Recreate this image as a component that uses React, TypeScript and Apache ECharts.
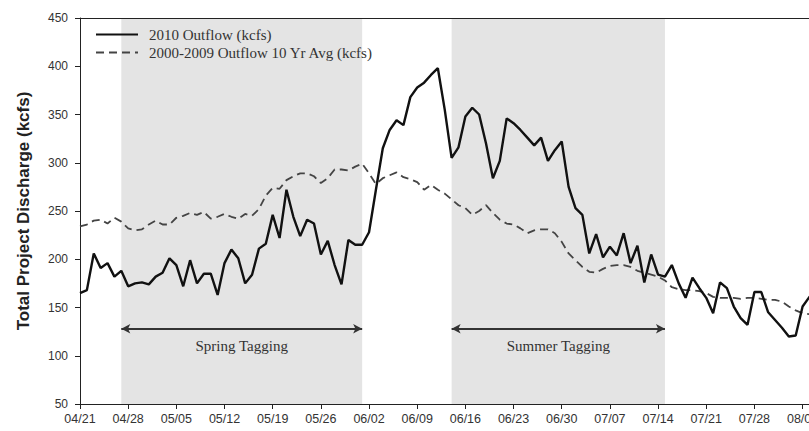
import React, { useEffect, useRef } from "react";
import * as echarts from "echarts";

// Dates from 04/21 (day 0) onward
function buildDates(n: number): string[] {
  const out: string[] = [];
  const monthLen = [31, 28, 31, 30, 31, 30, 31, 31, 30, 31, 30, 31];
  let m = 4, d = 21;
  for (let i = 0; i < n; i++) {
    out.push(String(m).padStart(2, "0") + "/" + String(d).padStart(2, "0"));
    d++;
    if (d > monthLen[m - 1]) { d = 1; m++; }
  }
  return out;
}
const categories = buildDates(111);

const outflow2010 = [
  165, 168, 206, 191, 196, 182, 188, 172, 175, 176,
  174, 182, 186, 201, 194, 172, 199, 175, 185, 185,
  163, 196, 210, 201, 175, 184, 211, 216, 246, 222,
  272, 244, 224, 241, 237, 205, 219, 194, 174, 220,
  215, 215, 228, 272, 315, 334, 344, 339, 368, 378,
  383, 391, 398, 355, 305, 316, 348, 357, 350, 320,
  284, 302, 346, 341, 334, 326, 318, 326, 302, 313,
  322, 275, 253, 246, 206, 226, 202, 213, 204, 227,
  196, 214, 176, 205, 184, 182, 194, 175, 160, 181,
  170, 160, 144, 176, 170, 151, 139, 132, 166, 166,
  145, 137, 129, 120, 121, 151, 161, 163, null, null, null,
];

const avg10yr = [
  234, 236, 240, 241, 237, 243, 239, 232, 230, 231,
  236, 240, 236, 236, 243, 245, 248, 246, 249, 242,
  244, 247, 244, 242, 247, 245, 252, 266, 274, 273,
  282, 286, 289, 289, 286, 279, 284, 293, 293, 292,
  296, 299, 289, 278, 284, 287, 290, 285, 283, 280,
  272, 277, 272, 268, 262, 256, 253, 246, 250, 256,
  248, 241, 237, 236, 232, 227, 230, 231, 231, 227,
  218, 206, 199, 192, 187, 186, 190, 193, 194, 194,
  192, 188, 186, 184, 182, 178, 171, 169, 168, 168,
  167, 165, 161, 160, 160, 160, 159, 160, 160, 159,
  158, 158, 156, 151, 147, 144, 143, 142, null, null, null,
];

const yTicks = { min: 50, max: 450, interval: 50 };
const springPeriod = ["04/27", "06/01"];
const summerPeriod = ["06/14", "07/15"];
const tagLevel = 128;

export default function App() {
  const ref = useRef<HTMLDivElement>(null);
  useEffect(() => {
    if (!ref.current) return;
    const chart = echarts.init(ref.current, undefined, { renderer: "svg" });
    const sans = "Liberation Sans";
    const serif = "Liberation Serif";
    const arrowLine = (a: string, b: string, label: string) => [
      { coord: [a, tagLevel], name: label },
      { coord: [b, tagLevel] },
    ];
    chart.setOption({
      animation: false,
      backgroundColor: "#ffffff",
      grid: { left: 80, top: 18, bottom: 27, right: 0 },
      legend: {
        orient: "vertical",
        left: 90,
        top: 22,
        itemWidth: 42,
        itemHeight: 14,
        itemGap: 3,
        itemStyle: { opacity: 0 },
        textStyle: { fontFamily: serif, fontSize: 15, color: "#333", padding: [0, 0, 0, 6] },
        data: ["2010 Outflow (kcfs)", "2000-2009 Outflow 10 Yr Avg (kcfs)"],
      },
      xAxis: [
        {
          type: "category",
          data: categories,
          boundaryGap: false,
          axisLine: { lineStyle: { color: "#222", width: 1 } },
          axisTick: { interval: 6, length: 5, lineStyle: { color: "#222" } },
          axisLabel: { interval: 6, fontFamily: sans, fontSize: 12.5, color: "#333", margin: 8 },
          splitLine: { show: false },
        },
        {
          type: "category",
          data: categories,
          boundaryGap: false,
          position: "top",
          z: 5,
          axisLine: { lineStyle: { color: "#222", width: 1 } },
          axisTick: { show: false },
          axisLabel: { show: false },
        },
      ],
      yAxis: {
        type: "value",
        min: yTicks.min,
        max: yTicks.max,
        interval: yTicks.interval,
        name: "Total Project Discharge (kcfs)",
        nameLocation: "middle",
        nameRotate: 90,
        nameGap: 48,
        nameTextStyle: { fontFamily: sans, fontSize: 17, fontWeight: "bold", color: "#222" },
        axisLine: { show: true, lineStyle: { color: "#222" } },
        axisTick: { show: true, length: 5, lineStyle: { color: "#222" } },
        axisLabel: { fontFamily: sans, fontSize: 12, color: "#333", margin: 12 },
        splitLine: { show: false },
      },
      series: [
        {
          type: "line",
          name: "shade",
          data: [],
          z: 1,
          silent: true,
          markArea: {
            silent: true,
            itemStyle: { color: "#e4e4e4" },
            data: [
              [{ xAxis: springPeriod[0] }, { xAxis: springPeriod[1] }],
              [{ xAxis: summerPeriod[0] }, { xAxis: summerPeriod[1] }],
            ],
          },
          markLine: {
            silent: true,
            symbol: ["arrow", "arrow"],
            symbolSize: [7, 9],
            lineStyle: { color: "#333", width: 2, type: "solid" },
            label: {
              show: true,
              position: "insideMiddleBottom",
              distance: 10,
              formatter: "{b}",
              fontFamily: serif,
              fontSize: 15,
              color: "#333",
            },
            data: [
              arrowLine(springPeriod[0], springPeriod[1], "Spring Tagging"),
              arrowLine(summerPeriod[0], summerPeriod[1], "Summer Tagging"),
            ],
          },
        },
        {
          type: "line",
          name: "2010 Outflow (kcfs)",
          data: outflow2010,
          z: 4,
          showSymbol: false,
          symbol: "none",
          lineStyle: { color: "#111", width: 2.4 },
          itemStyle: { color: "#111" },
        },
        {
          type: "line",
          name: "2000-2009 Outflow 10 Yr Avg (kcfs)",
          data: avg10yr,
          z: 3,
          showSymbol: false,
          symbol: "none",
          lineStyle: { color: "#444", width: 1.8, type: [8, 5] },
          itemStyle: { color: "#444" },
        },
      ],
    });
    return () => chart.dispose();
  }, []);
  return (
    <div
      style={{ position: "absolute", left: 0, top: 0, width: 809, height: 431, overflow: "hidden" }}
    >
      <div ref={ref} style={{ width: 837, height: 431 }} />
    </div>
  );
}
